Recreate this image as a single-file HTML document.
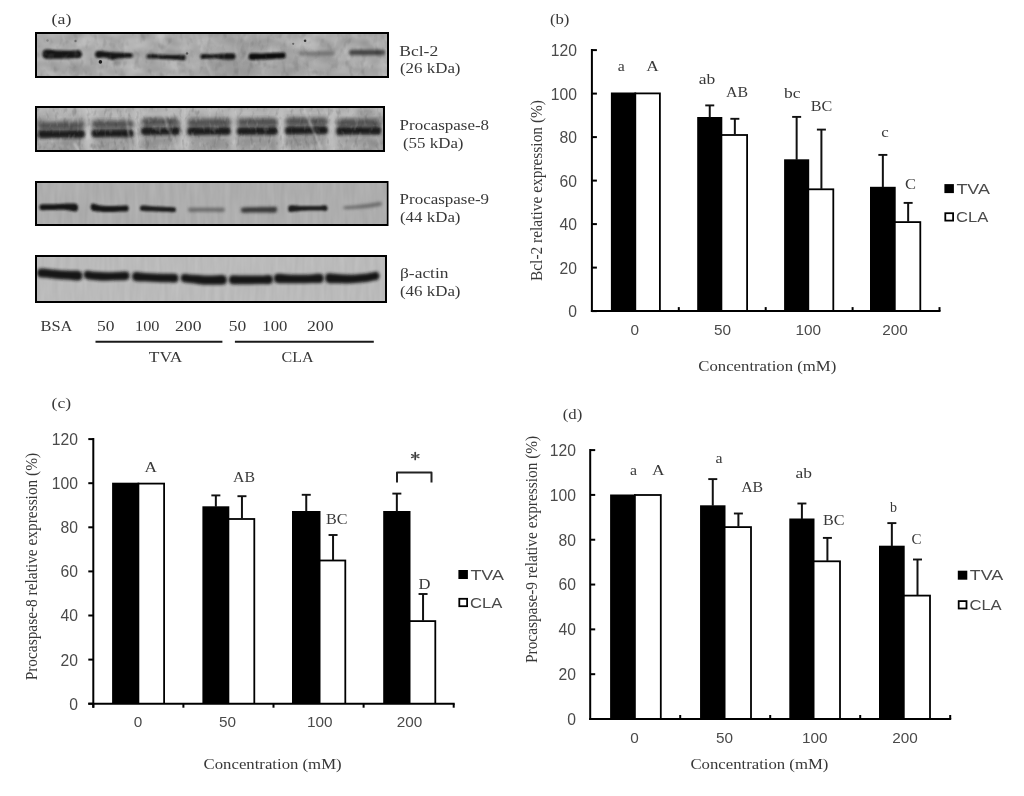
<!DOCTYPE html>
<html><head><meta charset="utf-8"><title>Figure</title>
<style>html,body{margin:0;padding:0;background:#fff;width:1024px;height:796px;overflow:hidden}svg{display:block;will-change:transform}</style>
</head><body>
<svg width="1024" height="796" viewBox="0 0 1024 796">
<rect width="1024" height="796" fill="#fff"/>
<defs><filter id="b6" x="-50%" y="-50%" width="200%" height="200%"><feGaussianBlur stdDeviation="0.6"/></filter><filter id="b8" x="-50%" y="-50%" width="200%" height="200%"><feGaussianBlur stdDeviation="0.8"/></filter><filter id="b10" x="-50%" y="-50%" width="200%" height="200%"><feGaussianBlur stdDeviation="1.0"/></filter><filter id="b13" x="-50%" y="-50%" width="200%" height="200%"><feGaussianBlur stdDeviation="1.3"/></filter><filter id="b14" x="-50%" y="-50%" width="200%" height="200%"><feGaussianBlur stdDeviation="1.4"/></filter><filter id="b15" x="-50%" y="-50%" width="200%" height="200%"><feGaussianBlur stdDeviation="1.5"/></filter><filter id="b18" x="-50%" y="-50%" width="200%" height="200%"><feGaussianBlur stdDeviation="1.8"/></filter><filter id="b19" x="-50%" y="-50%" width="200%" height="200%"><feGaussianBlur stdDeviation="1.9"/></filter><filter id="b20" x="-50%" y="-50%" width="200%" height="200%"><feGaussianBlur stdDeviation="2.0"/></filter><filter id="b25" x="-50%" y="-50%" width="200%" height="200%"><feGaussianBlur stdDeviation="2.5"/></filter><filter id="b30" x="-50%" y="-50%" width="200%" height="200%"><feGaussianBlur stdDeviation="3.0"/></filter><filter id="b60" x="-50%" y="-50%" width="200%" height="200%"><feGaussianBlur stdDeviation="6.0"/></filter><clipPath id="c1"><rect x="37" y="34" width="350" height="42"/></clipPath><clipPath id="c2"><rect x="37" y="108" width="346" height="42"/></clipPath><clipPath id="c3"><rect x="37" y="183" width="349.5" height="41"/></clipPath><clipPath id="c4"><rect x="37" y="257" width="348" height="44"/></clipPath><filter id="nz1" x="0" y="0" width="100%" height="100%" color-interpolation-filters="sRGB"><feTurbulence type="fractalNoise" baseFrequency="0.05 0.08" numOctaves="2" seed="3"/><feColorMatrix type="matrix" values="1 0 0 0 0  1 0 0 0 0  1 0 0 0 0  0 0 0 0 1"/><feComponentTransfer><feFuncR type="linear" slope="0.22" intercept="0.5606"/><feFuncG type="linear" slope="0.22" intercept="0.5606"/><feFuncB type="linear" slope="0.22" intercept="0.5606"/></feComponentTransfer></filter><filter id="nz2" x="0" y="0" width="100%" height="100%" color-interpolation-filters="sRGB"><feTurbulence type="fractalNoise" baseFrequency="0.05 0.08" numOctaves="2" seed="5"/><feColorMatrix type="matrix" values="1 0 0 0 0  1 0 0 0 0  1 0 0 0 0  0 0 0 0 1"/><feComponentTransfer><feFuncR type="linear" slope="0.3" intercept="0.5088"/><feFuncG type="linear" slope="0.3" intercept="0.5088"/><feFuncB type="linear" slope="0.3" intercept="0.5088"/></feComponentTransfer></filter><filter id="nz3" x="0" y="0" width="100%" height="100%" color-interpolation-filters="sRGB"><feTurbulence type="fractalNoise" baseFrequency="0.2 0.03" numOctaves="2" seed="7"/><feColorMatrix type="matrix" values="1 0 0 0 0  1 0 0 0 0  1 0 0 0 0  0 0 0 0 1"/><feComponentTransfer><feFuncR type="linear" slope="0.07" intercept="0.6474"/><feFuncG type="linear" slope="0.07" intercept="0.6474"/><feFuncB type="linear" slope="0.07" intercept="0.6474"/></feComponentTransfer></filter><filter id="nz4" x="0" y="0" width="100%" height="100%" color-interpolation-filters="sRGB"><feTurbulence type="fractalNoise" baseFrequency="0.2 0.03" numOctaves="2" seed="9"/><feColorMatrix type="matrix" values="1 0 0 0 0  1 0 0 0 0  1 0 0 0 0  0 0 0 0 1"/><feComponentTransfer><feFuncR type="linear" slope="0.06" intercept="0.7033"/><feFuncG type="linear" slope="0.06" intercept="0.7033"/><feFuncB type="linear" slope="0.06" intercept="0.7033"/></feComponentTransfer></filter><filter id="motw" x="0" y="0" width="100%" height="100%" color-interpolation-filters="sRGB"><feTurbulence type="fractalNoise" baseFrequency="0.22 0.12" numOctaves="2" seed="13"/><feColorMatrix type="matrix" values="0 0 0 0 1  0 0 0 0 1  0 0 0 0 1  0.5 0 0 0 -0.27"/></filter><filter id="motk" x="0" y="0" width="100%" height="100%" color-interpolation-filters="sRGB"><feTurbulence type="fractalNoise" baseFrequency="0.22 0.12" numOctaves="2" seed="29"/><feColorMatrix type="matrix" values="0 0 0 0 0  0 0 0 0 0  0 0 0 0 0  0.5 0 0 0 -0.27"/></filter><filter id="motw1" x="0" y="0" width="100%" height="100%" color-interpolation-filters="sRGB"><feTurbulence type="fractalNoise" baseFrequency="0.15 0.1" numOctaves="2" seed="41"/><feColorMatrix type="matrix" values="0 0 0 0 1  0 0 0 0 1  0 0 0 0 1  0.35 0 0 0 -0.19"/></filter><filter id="motk1" x="0" y="0" width="100%" height="100%" color-interpolation-filters="sRGB"><feTurbulence type="fractalNoise" baseFrequency="0.15 0.1" numOctaves="2" seed="43"/><feColorMatrix type="matrix" values="0 0 0 0 0  0 0 0 0 0  0 0 0 0 0  0.35 0 0 0 -0.19"/></filter></defs>
<rect x="36" y="33" width="352" height="44" fill="#acacac" stroke="#000" stroke-width="2"/>
<rect x="37.5" y="34.5" width="349" height="41" fill="none" stroke="#d2d2d2" stroke-width="1" opacity="0.35"/>
<g clip-path="url(#c1)">
<rect x="35" y="32" width="354" height="46" filter="url(#nz1)"/>
<ellipse cx="232" cy="68" rx="28" ry="12" fill="#8c8c8c" opacity="0.6" filter="url(#b60)"/>
<ellipse cx="250" cy="45" rx="22" ry="10" fill="#969696" opacity="0.45" filter="url(#b60)"/>
<path d="M196,34 L212,76" stroke="#c2c2c2" stroke-width="2" opacity="0.6" filter="url(#b10)"/>
<ellipse cx="232" cy="39" rx="18" ry="7" fill="#959595" opacity="0.5" filter="url(#b60)"/>
<ellipse cx="285" cy="66" rx="25" ry="10" fill="#9a9a9a" opacity="0.5" filter="url(#b60)"/>
<ellipse cx="330" cy="68" rx="20" ry="10" fill="#a0a0a0" opacity="0.4" filter="url(#b60)"/>
<path d="M156,34 L166,34 L161,44 Z" fill="#c4c4c4" opacity="0.8" filter="url(#b15)"/>
<path d="M240,34 L250,34 L245,42 Z" fill="#bcbcbc" opacity="0.6" filter="url(#b15)"/>
<path d="M45.00,49.80 C47.07,49.13 51.50,50.03 55.00,50.20 C58.50,50.37 62.67,50.77 66.00,50.80 C69.33,50.83 72.67,50.40 75.00,50.40 C77.33,50.40 78.85,50.15 80.00,50.80 C81.15,51.45 81.92,53.13 81.92,54.30 C81.92,55.47 81.15,57.15 80.00,57.80 C78.85,58.45 77.33,58.10 75.00,58.20 C72.67,58.30 69.33,58.30 66.00,58.40 C62.67,58.50 58.50,58.77 55.00,58.80 C51.50,58.83 47.07,59.37 45.00,58.60 C42.93,57.83 42.58,55.67 42.58,54.20 C42.58,52.73 42.93,50.47 45.00,49.80 Z" fill="#121212" opacity="1.0" filter="url(#b10)"/>
<path d="M97.00,51.20 C98.64,50.70 102.50,51.32 105.00,51.50 C107.50,51.68 109.83,52.12 112.00,52.30 C114.17,52.48 115.67,52.48 118.00,52.60 C120.33,52.72 123.75,52.90 126.00,53.00 C128.25,53.10 130.38,52.80 131.50,53.20 C132.62,53.60 132.71,54.67 132.71,55.40 C132.71,56.13 132.62,57.20 131.50,57.60 C130.38,58.00 128.25,57.65 126.00,57.80 C123.75,57.95 120.33,58.17 118.00,58.50 C115.67,58.83 114.17,59.97 112.00,59.80 C109.83,59.63 107.50,57.83 105.00,57.50 C102.50,57.17 98.64,58.30 97.00,57.80 C95.36,57.30 95.19,55.60 95.19,54.50 C95.19,53.40 95.36,51.70 97.00,51.20 Z" fill="#161616" opacity="1.0" filter="url(#b10)"/>
<circle cx="100.4" cy="61.9" r="1.8" fill="#1e1e1e" filter="url(#b6)"/>
<ellipse cx="117" cy="63" rx="4" ry="3" fill="#666" opacity="0.5" filter="url(#b15)"/>
<circle cx="47.5" cy="40.5" r="1.2" fill="#777" opacity="0.7" filter="url(#b6)"/>
<circle cx="75.5" cy="41" r="1.2" fill="#666" opacity="0.8" filter="url(#b6)"/>
<circle cx="187" cy="53.5" r="1.2" fill="#444" opacity="0.8" filter="url(#b6)"/>
<path d="M148.00,54.20 C150.20,53.90 156.00,54.47 160.00,54.60 C164.00,54.73 168.00,54.97 172.00,55.00 C176.00,55.03 181.75,54.38 184.00,54.80 C186.25,55.22 185.49,56.60 185.49,57.50 C185.49,58.40 186.25,59.85 184.00,60.20 C181.75,60.55 176.00,59.80 172.00,59.60 C168.00,59.40 164.00,59.17 160.00,59.00 C156.00,58.83 150.20,59.03 148.00,58.60 C145.80,58.17 146.79,57.13 146.79,56.40 C146.79,55.67 145.80,54.50 148.00,54.20 Z" fill="#181818" opacity="1.0" filter="url(#b10)"/>
<path d="M202.00,54.20 C203.88,53.84 208.67,54.50 212.00,54.40 C215.33,54.30 219.33,53.80 222.00,53.60 C224.67,53.40 226.00,53.20 228.00,53.20 C230.00,53.20 232.74,53.07 234.00,53.60 C235.26,54.13 235.54,55.47 235.54,56.40 C235.54,57.33 235.26,58.67 234.00,59.20 C232.74,59.73 230.00,59.60 228.00,59.60 C226.00,59.60 224.67,59.37 222.00,59.20 C219.33,59.03 215.33,58.65 212.00,58.60 C208.67,58.55 203.88,59.24 202.00,58.90 C200.12,58.56 200.71,57.33 200.71,56.55 C200.71,55.77 200.12,54.56 202.00,54.20 Z" fill="#181818" opacity="1.0" filter="url(#b10)"/>
<path d="M250.50,53.60 C252.70,53.05 258.08,53.53 262.00,53.40 C265.92,53.27 270.33,52.93 274.00,52.80 C277.67,52.67 282.07,52.16 284.00,52.60 C285.93,53.04 285.57,54.50 285.57,55.45 C285.57,56.40 285.93,57.71 284.00,58.30 C282.07,58.89 277.67,58.78 274.00,59.00 C270.33,59.22 265.92,59.47 262.00,59.60 C258.08,59.73 252.70,60.28 250.50,59.80 C248.30,59.32 248.79,57.73 248.79,56.70 C248.79,55.67 248.30,54.15 250.50,53.60 Z" fill="#111" opacity="1.0" filter="url(#b10)"/>
<path d="M301.00,51.15 C303.04,50.77 308.17,51.18 312.00,51.15 C315.83,51.12 320.42,50.97 324.00,50.95 C327.58,50.93 331.71,50.66 333.50,51.05 C335.29,51.44 334.74,52.55 334.74,53.30 C334.74,54.05 335.29,55.14 333.50,55.55 C331.71,55.96 327.58,55.68 324.00,55.75 C320.42,55.82 315.83,55.95 312.00,55.95 C308.17,55.95 303.04,56.17 301.00,55.75 C298.96,55.33 299.74,54.22 299.74,53.45 C299.74,52.68 298.96,51.53 301.00,51.15 Z" fill="#505050" opacity="0.55" filter="url(#b15)"/>
<circle cx="305.1" cy="40.8" r="1.3" fill="#333" filter="url(#b6)"/>
<circle cx="293.2" cy="43.8" r="1.1" fill="#555" opacity="0.8" filter="url(#b6)"/>
<path d="M350.50,50.05 C352.65,49.59 358.08,49.88 362.00,49.85 C365.92,49.82 370.33,49.82 374.00,49.85 C377.67,49.88 382.11,49.61 384.00,50.05 C385.89,50.49 385.35,51.68 385.35,52.50 C385.35,53.32 385.89,54.51 384.00,54.95 C382.11,55.39 377.67,55.12 374.00,55.15 C370.33,55.18 365.92,55.15 362.00,55.15 C358.08,55.15 352.65,55.57 350.50,55.15 C348.35,54.73 349.10,53.45 349.10,52.60 C349.10,51.75 348.35,50.51 350.50,50.05 Z" fill="#333" opacity="0.85" filter="url(#b14)"/>
<rect x="35" y="32" width="354" height="46" filter="url(#motw1)"/>
<rect x="35" y="32" width="354" height="46" filter="url(#motk1)"/>
</g>
<rect x="36" y="107" width="348" height="44" fill="#ababab" stroke="#000" stroke-width="2"/>
<rect x="37.5" y="108.5" width="345" height="41" fill="none" stroke="#d2d2d2" stroke-width="1" opacity="0.35"/>
<g clip-path="url(#c2)">
<rect x="35" y="106" width="350" height="46" filter="url(#nz2)"/>
<rect x="35" y="104" width="350" height="14" fill="#bdbdbd" opacity="0.55" filter="url(#b25)"/>
<rect x="84.2" y="106" width="8" height="46" fill="#c6c6c6" opacity="0.7" filter="url(#b25)"/>
<rect x="133.6" y="106" width="8" height="46" fill="#c6c6c6" opacity="0.7" filter="url(#b25)"/>
<rect x="179.6" y="106" width="8" height="46" fill="#c6c6c6" opacity="0.7" filter="url(#b25)"/>
<rect x="229.8" y="106" width="8" height="46" fill="#c6c6c6" opacity="0.7" filter="url(#b25)"/>
<rect x="277.4" y="106" width="8" height="46" fill="#c6c6c6" opacity="0.7" filter="url(#b25)"/>
<rect x="328.2" y="106" width="8" height="46" fill="#c6c6c6" opacity="0.7" filter="url(#b25)"/>
<rect x="40.0" y="121.7" width="42.3" height="15.299999999999997" fill="#7c7c7c" opacity="0.6" filter="url(#b20)"/>
<rect x="40.5" y="139.0" width="41.3" height="12" fill="#858585" opacity="0.45" filter="url(#b30)"/>
<path d="M39.50,122.70 C42.18,122.19 49.12,122.66 53.93,122.63 C58.74,122.61 63.56,122.59 68.37,122.57 C73.18,122.54 80.12,122.01 82.80,122.50 C85.48,122.99 84.45,124.50 84.45,125.50 C84.45,126.50 85.48,127.99 82.80,128.50 C80.12,129.01 73.18,128.54 68.37,128.57 C63.56,128.59 58.74,128.61 53.93,128.63 C49.12,128.66 42.18,129.19 39.50,128.70 C36.82,128.21 37.85,126.70 37.85,125.70 C37.85,124.70 36.82,123.21 39.50,122.70 Z" fill="#3c3c3c" opacity="0.85" filter="url(#b19)"/>
<path d="M39.50,130.60 C42.24,129.97 49.12,130.53 53.93,130.50 C58.74,130.47 63.56,130.43 68.37,130.40 C73.18,130.37 80.06,129.70 82.80,130.30 C85.54,130.90 84.83,132.77 84.83,134.00 C84.83,135.23 85.54,137.07 82.80,137.70 C80.06,138.33 73.18,137.77 68.37,137.80 C63.56,137.83 58.74,137.87 53.93,137.90 C49.12,137.93 42.24,138.60 39.50,138.00 C36.76,137.40 37.47,135.53 37.47,134.30 C37.47,133.07 36.76,131.23 39.50,130.60 Z" fill="#1a1a1a" opacity="1.0" filter="url(#b18)"/>
<rect x="94.1" y="120.5" width="37.099999999999994" height="15.699999999999989" fill="#7c7c7c" opacity="0.6" filter="url(#b20)"/>
<rect x="94.6" y="138.2" width="36.099999999999994" height="12" fill="#858585" opacity="0.4" filter="url(#b30)"/>
<path d="M93.60,121.50 C95.99,120.99 102.07,121.46 106.30,121.43 C110.53,121.41 114.77,121.39 119.00,121.37 C123.23,121.34 129.31,120.81 131.70,121.30 C134.09,121.79 133.35,123.30 133.35,124.30 C133.35,125.30 134.09,126.79 131.70,127.30 C129.31,127.81 123.23,127.34 119.00,127.37 C114.77,127.39 110.53,127.41 106.30,127.43 C102.07,127.46 95.99,127.99 93.60,127.50 C91.21,127.01 91.95,125.50 91.95,124.50 C91.95,123.50 91.21,122.01 93.60,121.50 Z" fill="#3c3c3c" opacity="0.85" filter="url(#b19)"/>
<path d="M93.60,129.80 C96.06,129.17 102.07,129.73 106.30,129.70 C110.53,129.67 114.77,129.63 119.00,129.60 C123.23,129.57 129.24,128.90 131.70,129.50 C134.16,130.10 133.73,131.97 133.73,133.20 C133.73,134.43 134.16,136.27 131.70,136.90 C129.24,137.53 123.23,136.97 119.00,137.00 C114.77,137.03 110.53,137.07 106.30,137.10 C102.07,137.13 96.06,137.80 93.60,137.20 C91.14,136.60 91.56,134.73 91.56,133.50 C91.56,132.27 91.14,130.43 93.60,129.80 Z" fill="#1a1a1a" opacity="1.0" filter="url(#b18)"/>
<rect x="143.5" y="118.1" width="33.900000000000006" height="15.900000000000006" fill="#7c7c7c" opacity="0.6" filter="url(#b20)"/>
<rect x="144" y="136.0" width="32.900000000000006" height="12" fill="#858585" opacity="0.7" filter="url(#b30)"/>
<path d="M143.00,119.10 C145.21,118.59 150.76,119.06 154.63,119.03 C158.51,119.01 162.39,118.99 166.27,118.97 C170.14,118.94 175.69,118.41 177.90,118.90 C180.11,119.39 179.55,120.90 179.55,121.90 C179.55,122.90 180.11,124.39 177.90,124.90 C175.69,125.41 170.14,124.94 166.27,124.97 C162.39,124.99 158.51,125.01 154.63,125.03 C150.76,125.06 145.21,125.59 143.00,125.10 C140.79,124.61 141.35,123.10 141.35,122.10 C141.35,121.10 140.79,119.61 143.00,119.10 Z" fill="#3c3c3c" opacity="0.85" filter="url(#b19)"/>
<path d="M143.00,127.60 C145.28,126.97 150.76,127.53 154.63,127.50 C158.51,127.47 162.39,127.43 166.27,127.40 C170.14,127.37 175.62,126.70 177.90,127.30 C180.18,127.90 179.94,129.77 179.94,131.00 C179.94,132.23 180.18,134.07 177.90,134.70 C175.62,135.33 170.14,134.77 166.27,134.80 C162.39,134.83 158.51,134.87 154.63,134.90 C150.76,134.93 145.28,135.60 143.00,135.00 C140.72,134.40 140.97,132.53 140.97,131.30 C140.97,130.07 140.72,128.23 143.00,127.60 Z" fill="#1a1a1a" opacity="1.0" filter="url(#b18)"/>
<rect x="189.9" y="118.8" width="38.29999999999998" height="15.200000000000003" fill="#7c7c7c" opacity="0.6" filter="url(#b20)"/>
<rect x="190.4" y="136.0" width="37.29999999999998" height="12" fill="#858585" opacity="0.5" filter="url(#b30)"/>
<path d="M189.40,119.80 C191.86,119.29 198.13,119.76 202.50,119.73 C206.87,119.71 211.23,119.69 215.60,119.67 C219.97,119.64 226.24,119.11 228.70,119.60 C231.16,120.09 230.35,121.60 230.35,122.60 C230.35,123.60 231.16,125.09 228.70,125.60 C226.24,126.11 219.97,125.64 215.60,125.67 C211.23,125.69 206.87,125.71 202.50,125.73 C198.13,125.76 191.86,126.29 189.40,125.80 C186.94,125.31 187.75,123.80 187.75,122.80 C187.75,121.80 186.94,120.31 189.40,119.80 Z" fill="#3c3c3c" opacity="0.85" filter="url(#b19)"/>
<path d="M189.40,127.60 C191.92,126.97 198.13,127.53 202.50,127.50 C206.87,127.47 211.23,127.43 215.60,127.40 C219.97,127.37 226.18,126.70 228.70,127.30 C231.22,127.90 230.73,129.77 230.73,131.00 C230.73,132.23 231.22,134.07 228.70,134.70 C226.18,135.33 219.97,134.77 215.60,134.80 C211.23,134.83 206.87,134.87 202.50,134.90 C198.13,134.93 191.92,135.60 189.40,135.00 C186.88,134.40 187.37,132.53 187.37,131.30 C187.37,130.07 186.88,128.23 189.40,127.60 Z" fill="#1a1a1a" opacity="1.0" filter="url(#b18)"/>
<rect x="239.4" y="118.3" width="35.900000000000006" height="15.600000000000009" fill="#7c7c7c" opacity="0.6" filter="url(#b20)"/>
<rect x="239.9" y="135.9" width="34.900000000000006" height="12" fill="#858585" opacity="0.7" filter="url(#b30)"/>
<path d="M238.90,119.30 C241.23,118.79 247.10,119.26 251.20,119.23 C255.30,119.21 259.40,119.19 263.50,119.17 C267.60,119.14 273.48,118.61 275.80,119.10 C278.12,119.59 277.45,121.10 277.45,122.10 C277.45,123.10 278.12,124.59 275.80,125.10 C273.48,125.61 267.60,125.14 263.50,125.17 C259.40,125.19 255.30,125.21 251.20,125.23 C247.10,125.26 241.23,125.79 238.90,125.30 C236.57,124.81 237.25,123.30 237.25,122.30 C237.25,121.30 236.57,119.81 238.90,119.30 Z" fill="#3c3c3c" opacity="0.85" filter="url(#b19)"/>
<path d="M238.90,127.50 C241.29,126.87 247.10,127.43 251.20,127.40 C255.30,127.37 259.40,127.33 263.50,127.30 C267.60,127.27 273.41,126.60 275.80,127.20 C278.19,127.80 277.84,129.67 277.84,130.90 C277.84,132.13 278.19,133.97 275.80,134.60 C273.41,135.23 267.60,134.67 263.50,134.70 C259.40,134.73 255.30,134.77 251.20,134.80 C247.10,134.83 241.29,135.50 238.90,134.90 C236.51,134.30 236.87,132.43 236.87,131.20 C236.87,129.97 236.51,128.13 238.90,127.50 Z" fill="#1a1a1a" opacity="1.0" filter="url(#b18)"/>
<rect x="287.5" y="117.6" width="37.89999999999998" height="15.700000000000017" fill="#7c7c7c" opacity="0.6" filter="url(#b20)"/>
<rect x="288" y="135.3" width="36.89999999999998" height="12" fill="#858585" opacity="0.65" filter="url(#b30)"/>
<path d="M287.00,118.60 C289.44,118.09 295.64,118.56 299.97,118.53 C304.29,118.51 308.61,118.49 312.93,118.47 C317.26,118.44 323.46,117.91 325.90,118.40 C328.34,118.89 327.55,120.40 327.55,121.40 C327.55,122.40 328.34,123.89 325.90,124.40 C323.46,124.91 317.26,124.44 312.93,124.47 C308.61,124.49 304.29,124.51 299.97,124.53 C295.64,124.56 289.44,125.09 287.00,124.60 C284.56,124.11 285.35,122.60 285.35,121.60 C285.35,120.60 284.56,119.11 287.00,118.60 Z" fill="#3c3c3c" opacity="0.85" filter="url(#b19)"/>
<path d="M287.00,126.90 C289.50,126.27 295.64,126.83 299.97,126.80 C304.29,126.77 308.61,126.73 312.93,126.70 C317.26,126.67 323.40,126.00 325.90,126.60 C328.40,127.20 327.94,129.07 327.94,130.30 C327.94,131.53 328.40,133.37 325.90,134.00 C323.40,134.63 317.26,134.07 312.93,134.10 C308.61,134.13 304.29,134.17 299.97,134.20 C295.64,134.23 289.50,134.90 287.00,134.30 C284.50,133.70 284.96,131.83 284.96,130.60 C284.96,129.37 284.50,127.53 287.00,126.90 Z" fill="#1a1a1a" opacity="1.0" filter="url(#b18)"/>
<rect x="338.9" y="118.8" width="39.80000000000001" height="14.899999999999991" fill="#7c7c7c" opacity="0.6" filter="url(#b20)"/>
<rect x="339.4" y="135.7" width="38.80000000000001" height="12" fill="#858585" opacity="0.45" filter="url(#b30)"/>
<path d="M338.40,119.80 C340.94,119.29 347.47,119.76 352.00,119.73 C356.53,119.71 361.07,119.69 365.60,119.67 C370.13,119.64 376.66,119.11 379.20,119.60 C381.74,120.09 380.85,121.60 380.85,122.60 C380.85,123.60 381.74,125.09 379.20,125.60 C376.66,126.11 370.13,125.64 365.60,125.67 C361.07,125.69 356.53,125.71 352.00,125.73 C347.47,125.76 340.94,126.29 338.40,125.80 C335.86,125.31 336.75,123.80 336.75,122.80 C336.75,121.80 335.86,120.31 338.40,119.80 Z" fill="#3c3c3c" opacity="0.85" filter="url(#b19)"/>
<path d="M338.40,127.30 C341.01,126.67 347.47,127.23 352.00,127.20 C356.53,127.17 361.07,127.13 365.60,127.10 C370.13,127.07 376.59,126.40 379.20,127.00 C381.81,127.60 381.24,129.47 381.24,130.70 C381.24,131.93 381.81,133.77 379.20,134.40 C376.59,135.03 370.13,134.47 365.60,134.50 C361.07,134.53 356.53,134.57 352.00,134.60 C347.47,134.63 341.01,135.30 338.40,134.70 C335.79,134.10 336.36,132.23 336.36,131.00 C336.36,129.77 335.79,127.93 338.40,127.30 Z" fill="#1a1a1a" opacity="1.0" filter="url(#b18)"/>
<path d="M125,107 L131,151" stroke="#d4d4d4" stroke-width="1.6" opacity="0.5" fill="none" filter="url(#b8)"/>
<path d="M163,115 L178,151" stroke="#d8d8d8" stroke-width="1.3" opacity="0.6" fill="none" filter="url(#b8)"/>
<path d="M303,107 L322,151" stroke="#dadada" stroke-width="1.3" opacity="0.65" fill="none" filter="url(#b8)"/>
<path d="M74,143 L79,151" stroke="#dcdcdc" stroke-width="1.8" opacity="0.7" fill="none" filter="url(#b8)"/>
<ellipse cx="365" cy="112" rx="9" ry="5" fill="#8a8a8a" opacity="0.55" filter="url(#b20)"/>
<rect x="35" y="106" width="350" height="46" filter="url(#motw)"/>
<rect x="35" y="106" width="350" height="46" filter="url(#motk)"/>
</g>
<rect x="36" y="182" width="351.5" height="43" fill="#aeaeae" stroke="#000" stroke-width="2"/>
<rect x="37.5" y="183.5" width="348.5" height="40" fill="none" stroke="#d2d2d2" stroke-width="1" opacity="0.35"/>
<g clip-path="url(#c3)">
<rect x="35" y="181" width="354" height="45" filter="url(#nz3)"/>
<path d="M41.00,204.55 C42.75,204.06 46.83,204.45 50.00,204.35 C53.17,204.25 57.00,204.08 60.00,203.95 C63.00,203.82 65.33,203.58 68.00,203.55 C70.67,203.52 74.31,203.07 76.00,203.75 C77.69,204.43 78.12,206.32 78.12,207.60 C78.12,208.88 77.69,211.01 76.00,211.45 C74.31,211.89 70.67,210.53 68.00,210.25 C65.33,209.97 63.00,209.78 60.00,209.75 C57.00,209.72 53.17,210.00 50.00,210.05 C46.83,210.10 42.75,210.51 41.00,210.05 C39.25,209.59 39.49,208.22 39.49,207.30 C39.49,206.38 39.25,205.04 41.00,204.55 Z" fill="#141414" opacity="1" filter="url(#b13)"/>
<path d="M92.50,203.55 C93.91,203.23 96.42,204.75 99.00,205.15 C101.58,205.55 104.83,205.85 108.00,205.95 C111.17,206.05 114.83,205.82 118.00,205.75 C121.17,205.68 125.24,205.11 127.00,205.55 C128.76,205.99 128.57,207.45 128.57,208.40 C128.57,209.35 128.76,210.71 127.00,211.25 C125.24,211.79 121.17,211.52 118.00,211.65 C114.83,211.78 111.17,212.08 108.00,212.05 C104.83,212.02 101.58,211.68 99.00,211.45 C96.42,211.22 93.91,211.37 92.50,210.65 C91.09,209.92 90.55,208.28 90.55,207.10 C90.55,205.92 91.09,203.88 92.50,203.55 Z" fill="#181818" opacity="1" filter="url(#b13)"/>
<path d="M141.50,205.65 C143.49,205.32 148.42,206.05 152.00,206.25 C155.58,206.45 159.25,206.63 163.00,206.85 C166.75,207.07 172.38,207.06 174.50,207.55 C176.62,208.04 175.74,209.05 175.74,209.80 C175.74,210.55 176.62,211.72 174.50,212.05 C172.38,212.37 166.75,211.87 163.00,211.75 C159.25,211.63 155.58,211.50 152.00,211.35 C148.42,211.20 143.49,211.37 141.50,210.85 C139.51,210.33 140.07,209.12 140.07,208.25 C140.07,207.38 139.51,205.98 141.50,205.65 Z" fill="#1c1c1c" opacity="1" filter="url(#b13)"/>
<path d="M189.50,207.85 C191.43,207.52 196.25,207.85 200.00,207.85 C203.75,207.85 208.08,207.83 212.00,207.85 C215.92,207.87 221.41,207.62 223.50,207.95 C225.59,208.28 224.55,209.22 224.55,209.85 C224.55,210.48 225.59,211.42 223.50,211.75 C221.41,212.08 215.92,211.83 212.00,211.85 C208.08,211.87 203.75,211.87 200.00,211.85 C196.25,211.83 191.43,212.09 189.50,211.75 C187.57,211.41 188.43,210.45 188.43,209.80 C188.43,209.15 187.57,208.18 189.50,207.85 Z" fill="#5a5a5a" opacity="0.8" filter="url(#b14)"/>
<path d="M242.50,207.70 C244.80,207.22 251.08,207.32 255.00,207.20 C258.92,207.08 262.58,207.07 266.00,207.00 C269.42,206.93 273.66,206.37 275.50,206.80 C277.34,207.23 277.04,208.67 277.04,209.60 C277.04,210.53 277.34,211.90 275.50,212.40 C273.66,212.90 269.42,212.57 266.00,212.60 C262.58,212.63 258.92,212.62 255.00,212.60 C251.08,212.58 244.80,212.92 242.50,212.50 C240.20,212.08 241.18,210.90 241.18,210.10 C241.18,209.30 240.20,208.18 242.50,207.70 Z" fill="#333" opacity="0.95" filter="url(#b14)"/>
<path d="M290.00,205.40 C291.96,204.94 296.50,205.78 300.00,205.90 C303.50,206.02 307.67,206.10 311.00,206.10 C314.33,206.10 317.50,206.02 320.00,205.90 C322.50,205.78 324.75,205.02 326.00,205.40 C327.25,205.77 327.51,207.23 327.51,208.15 C327.51,209.07 327.25,210.49 326.00,210.90 C324.75,211.31 322.50,210.65 320.00,210.60 C317.50,210.55 314.33,210.52 311.00,210.60 C307.67,210.68 303.50,210.88 300.00,211.10 C296.50,211.32 291.96,212.31 290.00,211.90 C288.04,211.49 288.21,209.73 288.21,208.65 C288.21,207.57 288.04,205.86 290.00,205.40 Z" fill="#1e1e1e" opacity="1" filter="url(#b13)"/>
<path d="M344.50,206.30 C346.38,205.93 351.25,205.87 355.00,205.50 C358.75,205.13 362.75,204.67 367.00,204.10 C371.25,203.53 378.08,202.13 380.50,202.10 C382.92,202.07 381.49,203.30 381.49,203.90 C381.49,204.50 382.92,205.03 380.50,205.70 C378.08,206.37 371.25,207.40 367.00,207.90 C362.75,208.40 358.75,208.50 355.00,208.70 C351.25,208.90 346.38,209.27 344.50,209.10 C342.62,208.93 343.73,208.17 343.73,207.70 C343.73,207.23 342.62,206.67 344.50,206.30 Z" fill="#555" opacity="0.75" filter="url(#b14)"/>
</g>
<rect x="36" y="256" width="350" height="46" fill="#bababa" stroke="#000" stroke-width="2"/>
<rect x="37.5" y="257.5" width="347" height="43" fill="none" stroke="#d2d2d2" stroke-width="1" opacity="0.35"/>
<g clip-path="url(#c4)">
<rect x="35" y="255" width="352" height="48" filter="url(#nz4)"/>
<path d="M39.50,268.75 C41.64,268.13 46.58,269.10 50.00,269.35 C53.42,269.60 56.67,270.03 60.00,270.25 C63.33,270.47 66.67,270.48 70.00,270.65 C73.33,270.82 77.92,270.40 80.00,271.25 C82.08,272.10 82.47,274.25 82.47,275.75 C82.47,277.25 82.08,279.58 80.00,280.25 C77.92,280.92 73.33,279.92 70.00,279.75 C66.67,279.58 63.33,279.52 60.00,279.25 C56.67,278.98 53.42,278.47 50.00,278.15 C46.58,277.83 41.64,278.20 39.50,277.35 C37.36,276.50 37.13,274.48 37.13,273.05 C37.13,271.62 37.36,269.37 39.50,268.75 Z" fill="#121212" opacity="1" filter="url(#b14)"/>
<path d="M86.00,270.75 C88.03,270.27 92.67,271.60 96.00,271.85 C99.33,272.10 102.50,272.22 106.00,272.25 C109.50,272.28 113.45,272.13 117.00,272.05 C120.55,271.97 125.22,271.13 127.30,271.75 C129.38,272.37 129.50,274.42 129.50,275.75 C129.50,277.08 129.38,278.98 127.30,279.75 C125.22,280.52 120.55,280.18 117.00,280.35 C113.45,280.52 109.50,280.78 106.00,280.75 C102.50,280.72 99.33,280.48 96.00,280.15 C92.67,279.82 88.03,279.65 86.00,278.75 C83.97,277.85 83.80,276.08 83.80,274.75 C83.80,273.42 83.97,271.23 86.00,270.75 Z" fill="#121212" opacity="1" filter="url(#b14)"/>
<path d="M134.50,272.15 C136.64,271.57 141.42,272.73 145.00,272.95 C148.58,273.17 152.50,273.32 156.00,273.45 C159.50,273.58 162.63,273.65 166.00,273.75 C169.37,273.85 174.12,273.31 176.20,274.05 C178.28,274.79 178.48,276.82 178.48,278.20 C178.48,279.58 178.28,281.68 176.20,282.35 C174.12,283.03 169.37,282.30 166.00,282.25 C162.63,282.20 159.50,282.17 156.00,282.05 C152.50,281.93 148.58,281.77 145.00,281.55 C141.42,281.33 136.64,281.60 134.50,280.75 C132.36,279.90 132.13,277.88 132.13,276.45 C132.13,275.02 132.36,272.73 134.50,272.15 Z" fill="#121212" opacity="1" filter="url(#b14)"/>
<path d="M183.00,274.05 C185.20,273.52 190.50,274.62 194.00,274.85 C197.50,275.08 200.67,275.35 204.00,275.45 C207.33,275.55 210.60,275.45 214.00,275.45 C217.40,275.45 222.26,274.71 224.40,275.45 C226.54,276.19 226.85,278.42 226.85,279.90 C226.85,281.38 226.54,283.56 224.40,284.35 C222.26,285.14 217.40,284.60 214.00,284.65 C210.60,284.70 207.33,284.83 204.00,284.65 C200.67,284.47 197.50,283.98 194.00,283.55 C190.50,283.12 185.20,282.97 183.00,282.05 C180.80,281.13 180.80,279.38 180.80,278.05 C180.80,276.72 180.80,274.58 183.00,274.05 Z" fill="#121212" opacity="1" filter="url(#b14)"/>
<path d="M231.30,275.45 C233.48,274.75 238.55,275.53 242.00,275.55 C245.45,275.57 248.67,275.57 252.00,275.55 C255.33,275.53 258.90,275.50 262.00,275.45 C265.10,275.40 268.77,274.57 270.60,275.25 C272.43,275.93 272.97,278.12 272.97,279.55 C272.97,280.98 272.43,283.10 270.60,283.85 C268.77,284.60 265.10,284.00 262.00,284.05 C258.90,284.10 255.33,284.13 252.00,284.15 C248.67,284.17 245.45,284.17 242.00,284.15 C238.55,284.13 233.48,284.78 231.30,284.05 C229.12,283.32 228.94,281.18 228.94,279.75 C228.94,278.32 229.12,276.15 231.30,275.45 Z" fill="#121212" opacity="1" filter="url(#b14)"/>
<path d="M276.30,274.05 C278.64,273.42 284.05,274.43 288.00,274.55 C291.95,274.67 296.17,274.77 300.00,274.75 C303.83,274.73 307.43,274.57 311.00,274.45 C314.57,274.33 319.27,273.40 321.40,274.05 C323.53,274.70 323.76,276.92 323.76,278.35 C323.76,279.78 323.53,281.87 321.40,282.65 C319.27,283.43 314.57,282.93 311.00,283.05 C307.43,283.17 303.83,283.33 300.00,283.35 C296.17,283.37 291.95,283.27 288.00,283.15 C284.05,283.03 278.64,283.45 276.30,282.65 C273.96,281.85 273.94,279.78 273.94,278.35 C273.94,276.92 273.96,274.68 276.30,274.05 Z" fill="#121212" opacity="1" filter="url(#b14)"/>
<path d="M327.70,273.45 C330.17,272.82 335.95,274.03 340.00,274.25 C344.05,274.47 348.00,274.82 352.00,274.75 C356.00,274.68 360.67,274.23 364.00,273.85 C367.33,273.47 369.78,272.77 372.00,272.45 C374.22,272.13 376.05,271.38 377.30,271.95 C378.55,272.52 379.47,274.58 379.47,275.90 C379.47,277.22 378.55,279.01 377.30,279.85 C376.05,280.69 374.22,280.53 372.00,280.95 C369.78,281.37 367.33,281.95 364.00,282.35 C360.67,282.75 356.00,283.22 352.00,283.35 C348.00,283.48 344.05,283.27 340.00,283.15 C335.95,283.03 330.17,283.50 327.70,282.65 C325.23,281.80 325.17,279.58 325.17,278.05 C325.17,276.52 325.23,274.08 327.70,273.45 Z" fill="#121212" opacity="1" filter="url(#b14)"/>
</g>
<text x="399.2" y="55.6" font-family="'Liberation Serif', serif" font-size="15" fill="#383838" textLength="39" lengthAdjust="spacingAndGlyphs">Bcl-2</text>
<text x="400" y="73.3" font-family="'Liberation Serif', serif" font-size="15" fill="#383838" textLength="60.5" lengthAdjust="spacingAndGlyphs">(26 kDa)</text>
<text x="399.6" y="129.6" font-family="'Liberation Serif', serif" font-size="15" fill="#383838" textLength="89.5" lengthAdjust="spacingAndGlyphs">Procaspase-8</text>
<text x="403" y="147.6" font-family="'Liberation Serif', serif" font-size="15" fill="#383838" textLength="60.5" lengthAdjust="spacingAndGlyphs">(55 kDa)</text>
<text x="399.6" y="204" font-family="'Liberation Serif', serif" font-size="15" fill="#383838" textLength="89.5" lengthAdjust="spacingAndGlyphs">Procaspase-9</text>
<text x="400" y="221.8" font-family="'Liberation Serif', serif" font-size="15" fill="#383838" textLength="60.5" lengthAdjust="spacingAndGlyphs">(44 kDa)</text>
<text x="400" y="278" font-family="'Liberation Serif', serif" font-size="15" fill="#383838" textLength="48.5" lengthAdjust="spacingAndGlyphs">β-actin</text>
<text x="400" y="295.8" font-family="'Liberation Serif', serif" font-size="15" fill="#383838" textLength="60.5" lengthAdjust="spacingAndGlyphs">(46 kDa)</text>
<text x="51.6" y="24" font-family="'Liberation Serif', serif" font-size="15" fill="#383838" textLength="19.8" lengthAdjust="spacingAndGlyphs">(a)</text>
<text x="40.5" y="330.8" font-family="'Liberation Serif', serif" font-size="15" fill="#383838" textLength="32" lengthAdjust="spacingAndGlyphs">BSA</text>
<text x="97" y="330.8" font-family="'Liberation Serif', serif" font-size="15" fill="#383838" textLength="17.5" lengthAdjust="spacingAndGlyphs">50</text>
<text x="135" y="330.8" font-family="'Liberation Serif', serif" font-size="15" fill="#383838" textLength="24.5" lengthAdjust="spacingAndGlyphs">100</text>
<text x="175" y="330.8" font-family="'Liberation Serif', serif" font-size="15" fill="#383838" textLength="26.5" lengthAdjust="spacingAndGlyphs">200</text>
<text x="228.7" y="330.8" font-family="'Liberation Serif', serif" font-size="15" fill="#383838" textLength="17.5" lengthAdjust="spacingAndGlyphs">50</text>
<text x="262.3" y="330.8" font-family="'Liberation Serif', serif" font-size="15" fill="#383838" textLength="25" lengthAdjust="spacingAndGlyphs">100</text>
<text x="307" y="330.8" font-family="'Liberation Serif', serif" font-size="15" fill="#383838" textLength="26.5" lengthAdjust="spacingAndGlyphs">200</text>
<line x1="95.5" y1="341.8" x2="222.4" y2="341.8" stroke="#1a1a1a" stroke-width="2"/>
<line x1="234.9" y1="341.8" x2="373.8" y2="341.8" stroke="#1a1a1a" stroke-width="2"/>
<text x="148.8" y="362.2" font-family="'Liberation Serif', serif" font-size="15" fill="#383838" textLength="33.5" lengthAdjust="spacingAndGlyphs">TVA</text>
<text x="281.5" y="362.2" font-family="'Liberation Serif', serif" font-size="15" fill="#383838" textLength="32" lengthAdjust="spacingAndGlyphs">CLA</text>
<rect x="610.9" y="92.5" width="25.300000000000068" height="218.60000000000002" fill="#000"/>
<rect x="634.4000000000001" y="92.5" width="26.39999999999991" height="218.60000000000002" fill="#000"/>
<rect x="636.2" y="94.3" width="22.79999999999991" height="216.8" fill="#fff"/>
<rect x="697.2" y="117.0" width="25.09999999999991" height="194.10000000000002" fill="#000"/>
<rect x="720.5" y="134.1" width="27.500000000000046" height="177.00000000000003" fill="#000"/>
<rect x="722.3" y="135.9" width="23.900000000000045" height="175.20000000000002" fill="#fff"/>
<line x1="709.75" y1="117.5" x2="709.75" y2="105.4" stroke="#111" stroke-width="2"/>
<line x1="705.25" y1="105.4" x2="714.25" y2="105.4" stroke="#111" stroke-width="1.9"/>
<line x1="734.85" y1="134.6" x2="734.85" y2="118.8" stroke="#111" stroke-width="2"/>
<line x1="730.35" y1="118.8" x2="739.35" y2="118.8" stroke="#111" stroke-width="1.9"/>
<rect x="784.1" y="159.3" width="25.100000000000023" height="151.8" fill="#000"/>
<rect x="807.4000000000001" y="188.4" width="26.8" height="122.70000000000002" fill="#000"/>
<rect x="809.2" y="190.20000000000002" width="23.2" height="120.90000000000002" fill="#fff"/>
<line x1="796.65" y1="159.8" x2="796.65" y2="116.9" stroke="#111" stroke-width="2"/>
<line x1="792.15" y1="116.9" x2="801.15" y2="116.9" stroke="#111" stroke-width="1.9"/>
<line x1="821.40" y1="188.9" x2="821.40" y2="129.6" stroke="#111" stroke-width="2"/>
<line x1="816.90" y1="129.6" x2="825.90" y2="129.6" stroke="#111" stroke-width="1.9"/>
<rect x="870" y="186.8" width="25.700000000000045" height="124.30000000000001" fill="#000"/>
<rect x="893.9000000000001" y="221.2" width="27.3" height="89.90000000000003" fill="#000"/>
<rect x="895.7" y="223.0" width="23.7" height="88.10000000000004" fill="#fff"/>
<line x1="882.85" y1="187.3" x2="882.85" y2="154.9" stroke="#111" stroke-width="2"/>
<line x1="878.35" y1="154.9" x2="887.35" y2="154.9" stroke="#111" stroke-width="1.9"/>
<line x1="908.15" y1="221.7" x2="908.15" y2="202.9" stroke="#111" stroke-width="2"/>
<line x1="903.65" y1="202.9" x2="912.65" y2="202.9" stroke="#111" stroke-width="1.9"/>
<line x1="591.9" y1="49.1" x2="591.9" y2="312.1" stroke="#000" stroke-width="2"/>
<line x1="590.9" y1="311.1" x2="940.5" y2="311.1" stroke="#000" stroke-width="2"/>
<line x1="591.9" y1="311.1" x2="596.9" y2="311.1" stroke="#000" stroke-width="2"/>
<text x="577" y="317.0" font-family="'Liberation Sans', sans-serif" font-size="15.7" fill="#4a4a4a" text-anchor="end">0</text>
<line x1="591.9" y1="267.6" x2="596.9" y2="267.6" stroke="#000" stroke-width="2"/>
<text x="577" y="273.5" font-family="'Liberation Sans', sans-serif" font-size="15.7" fill="#4a4a4a" text-anchor="end">20</text>
<line x1="591.9" y1="224.10000000000002" x2="596.9" y2="224.10000000000002" stroke="#000" stroke-width="2"/>
<text x="577" y="230.00000000000003" font-family="'Liberation Sans', sans-serif" font-size="15.7" fill="#4a4a4a" text-anchor="end">40</text>
<line x1="591.9" y1="180.60000000000002" x2="596.9" y2="180.60000000000002" stroke="#000" stroke-width="2"/>
<text x="577" y="186.50000000000003" font-family="'Liberation Sans', sans-serif" font-size="15.7" fill="#4a4a4a" text-anchor="end">60</text>
<line x1="591.9" y1="137.10000000000002" x2="596.9" y2="137.10000000000002" stroke="#000" stroke-width="2"/>
<text x="577" y="143.00000000000003" font-family="'Liberation Sans', sans-serif" font-size="15.7" fill="#4a4a4a" text-anchor="end">80</text>
<line x1="591.9" y1="93.60000000000005" x2="596.9" y2="93.60000000000005" stroke="#000" stroke-width="2"/>
<text x="577" y="99.50000000000006" font-family="'Liberation Sans', sans-serif" font-size="15.7" fill="#4a4a4a" text-anchor="end">100</text>
<line x1="591.9" y1="50.10000000000002" x2="596.9" y2="50.10000000000002" stroke="#000" stroke-width="2"/>
<text x="577" y="56.00000000000002" font-family="'Liberation Sans', sans-serif" font-size="15.7" fill="#4a4a4a" text-anchor="end">120</text>
<line x1="678.8" y1="307.1" x2="678.8" y2="311.1" stroke="#000" stroke-width="2"/>
<line x1="765.7" y1="307.1" x2="765.7" y2="311.1" stroke="#000" stroke-width="2"/>
<line x1="852.6" y1="307.1" x2="852.6" y2="311.1" stroke="#000" stroke-width="2"/>
<line x1="939.5" y1="307.1" x2="939.5" y2="311.1" stroke="#000" stroke-width="2"/>
<text x="634.7" y="335.2" font-family="'Liberation Sans', sans-serif" font-size="15.3" fill="#4a4a4a" text-anchor="middle">0</text>
<text x="722.6" y="335.2" font-family="'Liberation Sans', sans-serif" font-size="15.3" fill="#4a4a4a" text-anchor="middle">50</text>
<text x="808.3" y="335.2" font-family="'Liberation Sans', sans-serif" font-size="15.3" fill="#4a4a4a" text-anchor="middle">100</text>
<text x="894.9" y="335.2" font-family="'Liberation Sans', sans-serif" font-size="15.3" fill="#4a4a4a" text-anchor="middle">200</text>
<rect x="944.4" y="184.1" width="9.5" height="9" fill="#000"/>
<rect x="945.3" y="213.20000000000002" width="7.8" height="7.4" fill="#fff" stroke="#000" stroke-width="1.8"/>
<text x="956.4" y="193.7" font-family="'Liberation Sans', sans-serif" font-size="15.5" fill="#4a4a4a" textLength="33.5" lengthAdjust="spacingAndGlyphs">TVA</text>
<text x="956.0" y="221.9" font-family="'Liberation Sans', sans-serif" font-size="15.5" fill="#4a4a4a" textLength="32.3" lengthAdjust="spacingAndGlyphs">CLA</text>
<text x="541.6" y="190.5" font-family="'Liberation Serif', serif" font-size="16" fill="#383838" text-anchor="middle" textLength="181" lengthAdjust="spacingAndGlyphs" transform="rotate(-90 541.6 190.5)">Bcl-2 relative expression (%)</text>
<text x="698.3" y="371.1" font-family="'Liberation Serif', serif" font-size="15" fill="#383838" textLength="138" lengthAdjust="spacingAndGlyphs">Concentration (mM)</text>
<text x="549.9" y="24" font-family="'Liberation Serif', serif" font-size="15" fill="#383838" textLength="19.5" lengthAdjust="spacingAndGlyphs">(b)</text>
<text x="617.7" y="70.9" font-family="'Liberation Serif', serif" font-size="15.5" fill="#383838" textLength="7" lengthAdjust="spacingAndGlyphs">a</text>
<text x="646.2" y="70.9" font-family="'Liberation Serif', serif" font-size="15.5" fill="#383838" textLength="12.5" lengthAdjust="spacingAndGlyphs">A</text>
<text x="698.8" y="84" font-family="'Liberation Serif', serif" font-size="15.5" fill="#383838" textLength="16.5" lengthAdjust="spacingAndGlyphs">ab</text>
<text x="726" y="96.6" font-family="'Liberation Serif', serif" font-size="15.5" fill="#383838" textLength="22" lengthAdjust="spacingAndGlyphs">AB</text>
<text x="784" y="97.6" font-family="'Liberation Serif', serif" font-size="15.5" fill="#383838" textLength="16.5" lengthAdjust="spacingAndGlyphs">bc</text>
<text x="810.7" y="110.8" font-family="'Liberation Serif', serif" font-size="15.5" fill="#383838" textLength="21.5" lengthAdjust="spacingAndGlyphs">BC</text>
<text x="881.3" y="137.1" font-family="'Liberation Serif', serif" font-size="15.5" fill="#383838" textLength="7.5" lengthAdjust="spacingAndGlyphs">c</text>
<text x="904.9" y="189" font-family="'Liberation Serif', serif" font-size="15.5" fill="#383838" textLength="11" lengthAdjust="spacingAndGlyphs">C</text>
<rect x="112.1" y="482.7" width="27.200000000000017" height="221.00000000000006" fill="#000"/>
<rect x="137.5" y="482.7" width="27.49999999999999" height="221.00000000000006" fill="#000"/>
<rect x="139.3" y="484.5" width="23.899999999999988" height="219.20000000000005" fill="#fff"/>
<rect x="202.4" y="506.3" width="26.900000000000006" height="197.40000000000003" fill="#000"/>
<rect x="227.5" y="518.1" width="27.699999999999978" height="185.60000000000002" fill="#000"/>
<rect x="229.3" y="519.9" width="24.099999999999977" height="183.8" fill="#fff"/>
<line x1="215.85" y1="506.8" x2="215.85" y2="495.4" stroke="#111" stroke-width="2"/>
<line x1="211.35" y1="495.4" x2="220.35" y2="495.4" stroke="#111" stroke-width="1.9"/>
<line x1="241.95" y1="518.6" x2="241.95" y2="496.2" stroke="#111" stroke-width="2"/>
<line x1="237.45" y1="496.2" x2="246.45" y2="496.2" stroke="#111" stroke-width="1.9"/>
<rect x="292" y="511" width="28.5" height="192.70000000000005" fill="#000"/>
<rect x="318.7" y="559.6" width="27.49999999999999" height="144.10000000000002" fill="#000"/>
<rect x="320.5" y="561.4" width="23.899999999999988" height="142.3" fill="#fff"/>
<line x1="306.25" y1="511.5" x2="306.25" y2="494.8" stroke="#111" stroke-width="2"/>
<line x1="301.75" y1="494.8" x2="310.75" y2="494.8" stroke="#111" stroke-width="1.9"/>
<line x1="333.05" y1="560.1" x2="333.05" y2="535" stroke="#111" stroke-width="2"/>
<line x1="328.55" y1="535" x2="337.55" y2="535" stroke="#111" stroke-width="1.9"/>
<rect x="383.2" y="511" width="27.30000000000001" height="192.70000000000005" fill="#000"/>
<rect x="408.7" y="620.2" width="27.49999999999999" height="83.5" fill="#000"/>
<rect x="410.5" y="622.0" width="23.899999999999988" height="81.7" fill="#fff"/>
<line x1="396.85" y1="511.5" x2="396.85" y2="493.6" stroke="#111" stroke-width="2"/>
<line x1="392.35" y1="493.6" x2="401.35" y2="493.6" stroke="#111" stroke-width="1.9"/>
<line x1="423.05" y1="620.7" x2="423.05" y2="594" stroke="#111" stroke-width="2"/>
<line x1="418.55" y1="594" x2="427.55" y2="594" stroke="#111" stroke-width="1.9"/>
<line x1="93.3" y1="438.1" x2="93.3" y2="707.7" stroke="#000" stroke-width="2"/>
<line x1="88.3" y1="703.7" x2="454.7" y2="703.7" stroke="#000" stroke-width="2"/>
<line x1="88.3" y1="703.7" x2="93.3" y2="703.7" stroke="#000" stroke-width="2"/>
<text x="78" y="709.6" font-family="'Liberation Sans', sans-serif" font-size="15.7" fill="#4a4a4a" text-anchor="end">0</text>
<line x1="88.3" y1="659.6" x2="93.3" y2="659.6" stroke="#000" stroke-width="2"/>
<text x="78" y="665.5" font-family="'Liberation Sans', sans-serif" font-size="15.7" fill="#4a4a4a" text-anchor="end">20</text>
<line x1="88.3" y1="615.5" x2="93.3" y2="615.5" stroke="#000" stroke-width="2"/>
<text x="78" y="621.4" font-family="'Liberation Sans', sans-serif" font-size="15.7" fill="#4a4a4a" text-anchor="end">40</text>
<line x1="88.3" y1="571.4000000000001" x2="93.3" y2="571.4000000000001" stroke="#000" stroke-width="2"/>
<text x="78" y="577.3000000000001" font-family="'Liberation Sans', sans-serif" font-size="15.7" fill="#4a4a4a" text-anchor="end">60</text>
<line x1="88.3" y1="527.3000000000001" x2="93.3" y2="527.3000000000001" stroke="#000" stroke-width="2"/>
<text x="78" y="533.2" font-family="'Liberation Sans', sans-serif" font-size="15.7" fill="#4a4a4a" text-anchor="end">80</text>
<line x1="88.3" y1="483.20000000000005" x2="93.3" y2="483.20000000000005" stroke="#000" stroke-width="2"/>
<text x="78" y="489.1" font-family="'Liberation Sans', sans-serif" font-size="15.7" fill="#4a4a4a" text-anchor="end">100</text>
<line x1="88.3" y1="439.1" x2="93.3" y2="439.1" stroke="#000" stroke-width="2"/>
<text x="78" y="445.0" font-family="'Liberation Sans', sans-serif" font-size="15.7" fill="#4a4a4a" text-anchor="end">120</text>
<line x1="183.39999999999998" y1="703.7" x2="183.39999999999998" y2="707.7" stroke="#000" stroke-width="2"/>
<line x1="273.5" y1="703.7" x2="273.5" y2="707.7" stroke="#000" stroke-width="2"/>
<line x1="363.59999999999997" y1="703.7" x2="363.59999999999997" y2="707.7" stroke="#000" stroke-width="2"/>
<line x1="453.7" y1="703.7" x2="453.7" y2="707.7" stroke="#000" stroke-width="2"/>
<line x1="93.3" y1="703.7" x2="93.3" y2="707.7" stroke="#000" stroke-width="2"/>
<text x="138" y="727.4" font-family="'Liberation Sans', sans-serif" font-size="15.3" fill="#4a4a4a" text-anchor="middle">0</text>
<text x="227.5" y="727.4" font-family="'Liberation Sans', sans-serif" font-size="15.3" fill="#4a4a4a" text-anchor="middle">50</text>
<text x="319.8" y="727.4" font-family="'Liberation Sans', sans-serif" font-size="15.3" fill="#4a4a4a" text-anchor="middle">100</text>
<text x="409.4" y="727.4" font-family="'Liberation Sans', sans-serif" font-size="15.3" fill="#4a4a4a" text-anchor="middle">200</text>
<rect x="458.4" y="570" width="9.5" height="9" fill="#000"/>
<rect x="459.29999999999995" y="598.8" width="7.8" height="7.4" fill="#fff" stroke="#000" stroke-width="1.8"/>
<text x="470.4" y="579.6" font-family="'Liberation Sans', sans-serif" font-size="15.5" fill="#4a4a4a" textLength="33.5" lengthAdjust="spacingAndGlyphs">TVA</text>
<text x="470.0" y="607.5" font-family="'Liberation Sans', sans-serif" font-size="15.5" fill="#4a4a4a" textLength="32.3" lengthAdjust="spacingAndGlyphs">CLA</text>
<text x="36.7" y="566.6" font-family="'Liberation Serif', serif" font-size="16" fill="#383838" text-anchor="middle" textLength="227.5" lengthAdjust="spacingAndGlyphs" transform="rotate(-90 36.7 566.6)">Procaspase-8 relative expression (%)</text>
<text x="203.6" y="768.8" font-family="'Liberation Serif', serif" font-size="15" fill="#383838" textLength="138" lengthAdjust="spacingAndGlyphs">Concentration (mM)</text>
<text x="51.6" y="407.7" font-family="'Liberation Serif', serif" font-size="15" fill="#383838" textLength="19.5" lengthAdjust="spacingAndGlyphs">(c)</text>
<text x="144.6" y="472.1" font-family="'Liberation Serif', serif" font-size="15.5" fill="#383838" textLength="12.5" lengthAdjust="spacingAndGlyphs">A</text>
<text x="233" y="481.7" font-family="'Liberation Serif', serif" font-size="15.5" fill="#383838" textLength="22" lengthAdjust="spacingAndGlyphs">AB</text>
<text x="325.9" y="524.3" font-family="'Liberation Serif', serif" font-size="15.5" fill="#383838" textLength="21.5" lengthAdjust="spacingAndGlyphs">BC</text>
<text x="418.6" y="588.6" font-family="'Liberation Serif', serif" font-size="15.5" fill="#383838" textLength="12" lengthAdjust="spacingAndGlyphs">D</text>
<path d="M397,482.5 L397,472.5 L431.5,472.5 L431.5,482.5" stroke="#222" stroke-width="2" fill="none" stroke-linejoin="round"/>
<g stroke-linecap="round" fill="none"><path d="M411.8,454.8 L418.8,457.4 M411.8,457.4 L418.8,454.8" stroke="#b0b0b0" stroke-width="1"/><path d="M411.6,454.6 L413.5,455.3 M411.6,457.6 L413.5,456.9 M416.9,455.3 L418.9,454.6 M416.9,456.9 L418.9,457.6" stroke="#4a4a4a" stroke-width="1.4"/><path d="M415.2,452.6 L415.2,459.5" stroke="#3c3c3c" stroke-width="1.7"/></g>
<rect x="610.1" y="494.5" width="25.699999999999932" height="224.5" fill="#000"/>
<rect x="634.0" y="494.1" width="27.70000000000009" height="224.89999999999998" fill="#000"/>
<rect x="635.8" y="495.90000000000003" width="24.10000000000009" height="223.09999999999997" fill="#fff"/>
<rect x="700.05" y="505.3" width="25.450000000000045" height="213.7" fill="#000"/>
<rect x="723.7" y="526.2" width="28.199999999999978" height="192.79999999999995" fill="#000"/>
<rect x="725.5" y="528.0" width="24.599999999999977" height="190.99999999999994" fill="#fff"/>
<line x1="712.77" y1="505.8" x2="712.77" y2="479.1" stroke="#111" stroke-width="2"/>
<line x1="708.27" y1="479.1" x2="717.27" y2="479.1" stroke="#111" stroke-width="1.9"/>
<line x1="738.40" y1="526.7" x2="738.40" y2="513.5" stroke="#111" stroke-width="2"/>
<line x1="733.90" y1="513.5" x2="742.90" y2="513.5" stroke="#111" stroke-width="1.9"/>
<rect x="789.3" y="518.5" width="25.200000000000045" height="200.5" fill="#000"/>
<rect x="812.7" y="560.4" width="28.199999999999978" height="158.60000000000002" fill="#000"/>
<rect x="814.5" y="562.1999999999999" width="24.599999999999977" height="156.8" fill="#fff"/>
<line x1="801.90" y1="519.0" x2="801.90" y2="503.5" stroke="#111" stroke-width="2"/>
<line x1="797.40" y1="503.5" x2="806.40" y2="503.5" stroke="#111" stroke-width="1.9"/>
<line x1="827.40" y1="560.9" x2="827.40" y2="537.9" stroke="#111" stroke-width="2"/>
<line x1="822.90" y1="537.9" x2="831.90" y2="537.9" stroke="#111" stroke-width="1.9"/>
<rect x="879" y="545.7" width="25.700000000000045" height="173.29999999999995" fill="#000"/>
<rect x="902.9000000000001" y="594.7" width="27.999999999999932" height="124.29999999999995" fill="#000"/>
<rect x="904.7" y="596.5" width="24.39999999999993" height="122.49999999999996" fill="#fff"/>
<line x1="891.85" y1="546.2" x2="891.85" y2="523.1" stroke="#111" stroke-width="2"/>
<line x1="887.35" y1="523.1" x2="896.35" y2="523.1" stroke="#111" stroke-width="1.9"/>
<line x1="917.50" y1="595.2" x2="917.50" y2="559.5" stroke="#111" stroke-width="2"/>
<line x1="913.00" y1="559.5" x2="922.00" y2="559.5" stroke="#111" stroke-width="1.9"/>
<line x1="590.2" y1="449.1" x2="590.2" y2="720.0" stroke="#000" stroke-width="2"/>
<line x1="589.2" y1="719.0" x2="951.2" y2="719.0" stroke="#000" stroke-width="2"/>
<line x1="590.2" y1="719.0" x2="595.2" y2="719.0" stroke="#000" stroke-width="2"/>
<text x="576" y="724.9" font-family="'Liberation Sans', sans-serif" font-size="15.7" fill="#4a4a4a" text-anchor="end">0</text>
<line x1="590.2" y1="674.1833333333334" x2="595.2" y2="674.1833333333334" stroke="#000" stroke-width="2"/>
<text x="576" y="680.0833333333334" font-family="'Liberation Sans', sans-serif" font-size="15.7" fill="#4a4a4a" text-anchor="end">20</text>
<line x1="590.2" y1="629.3666666666667" x2="595.2" y2="629.3666666666667" stroke="#000" stroke-width="2"/>
<text x="576" y="635.2666666666667" font-family="'Liberation Sans', sans-serif" font-size="15.7" fill="#4a4a4a" text-anchor="end">40</text>
<line x1="590.2" y1="584.55" x2="595.2" y2="584.55" stroke="#000" stroke-width="2"/>
<text x="576" y="590.4499999999999" font-family="'Liberation Sans', sans-serif" font-size="15.7" fill="#4a4a4a" text-anchor="end">60</text>
<line x1="590.2" y1="539.7333333333333" x2="595.2" y2="539.7333333333333" stroke="#000" stroke-width="2"/>
<text x="576" y="545.6333333333333" font-family="'Liberation Sans', sans-serif" font-size="15.7" fill="#4a4a4a" text-anchor="end">80</text>
<line x1="590.2" y1="494.9166666666667" x2="595.2" y2="494.9166666666667" stroke="#000" stroke-width="2"/>
<text x="576" y="500.81666666666666" font-family="'Liberation Sans', sans-serif" font-size="15.7" fill="#4a4a4a" text-anchor="end">100</text>
<line x1="590.2" y1="450.1" x2="595.2" y2="450.1" stroke="#000" stroke-width="2"/>
<text x="576" y="456.0" font-family="'Liberation Sans', sans-serif" font-size="15.7" fill="#4a4a4a" text-anchor="end">120</text>
<line x1="680.2" y1="715.0" x2="680.2" y2="719.0" stroke="#000" stroke-width="2"/>
<line x1="770.2" y1="715.0" x2="770.2" y2="719.0" stroke="#000" stroke-width="2"/>
<line x1="860.2" y1="715.0" x2="860.2" y2="719.0" stroke="#000" stroke-width="2"/>
<line x1="950.2" y1="715.0" x2="950.2" y2="719.0" stroke="#000" stroke-width="2"/>
<text x="634.4" y="742.8" font-family="'Liberation Sans', sans-serif" font-size="15.3" fill="#4a4a4a" text-anchor="middle">0</text>
<text x="724.4" y="742.8" font-family="'Liberation Sans', sans-serif" font-size="15.3" fill="#4a4a4a" text-anchor="middle">50</text>
<text x="814.7" y="742.8" font-family="'Liberation Sans', sans-serif" font-size="15.3" fill="#4a4a4a" text-anchor="middle">100</text>
<text x="905" y="742.8" font-family="'Liberation Sans', sans-serif" font-size="15.3" fill="#4a4a4a" text-anchor="middle">200</text>
<rect x="957.8" y="570.7" width="9.5" height="9" fill="#000"/>
<rect x="958.6999999999999" y="601.1" width="7.8" height="7.4" fill="#fff" stroke="#000" stroke-width="1.8"/>
<text x="969.8" y="580.3000000000001" font-family="'Liberation Sans', sans-serif" font-size="15.5" fill="#4a4a4a" textLength="33.5" lengthAdjust="spacingAndGlyphs">TVA</text>
<text x="969.4" y="609.8000000000001" font-family="'Liberation Sans', sans-serif" font-size="15.5" fill="#4a4a4a" textLength="32.3" lengthAdjust="spacingAndGlyphs">CLA</text>
<text x="536.7" y="549.4" font-family="'Liberation Serif', serif" font-size="16" fill="#383838" text-anchor="middle" textLength="227.2" lengthAdjust="spacingAndGlyphs" transform="rotate(-90 536.7 549.4)">Procaspase-9 relative expression (%)</text>
<text x="690.4" y="768.8" font-family="'Liberation Serif', serif" font-size="15" fill="#383838" textLength="138" lengthAdjust="spacingAndGlyphs">Concentration (mM)</text>
<text x="562.8" y="418.6" font-family="'Liberation Serif', serif" font-size="15" fill="#383838" textLength="19.5" lengthAdjust="spacingAndGlyphs">(d)</text>
<text x="629.9" y="475.4" font-family="'Liberation Serif', serif" font-size="15.5" fill="#383838" textLength="7" lengthAdjust="spacingAndGlyphs">a</text>
<text x="652" y="474.8" font-family="'Liberation Serif', serif" font-size="15.5" fill="#383838" textLength="12.5" lengthAdjust="spacingAndGlyphs">A</text>
<text x="715.6" y="463.2" font-family="'Liberation Serif', serif" font-size="15.5" fill="#383838" textLength="7" lengthAdjust="spacingAndGlyphs">a</text>
<text x="741.2" y="492.2" font-family="'Liberation Serif', serif" font-size="15.5" fill="#383838" textLength="22" lengthAdjust="spacingAndGlyphs">AB</text>
<text x="795.5" y="478.2" font-family="'Liberation Serif', serif" font-size="15.5" fill="#383838" textLength="16.5" lengthAdjust="spacingAndGlyphs">ab</text>
<text x="823" y="525" font-family="'Liberation Serif', serif" font-size="15.5" fill="#383838" textLength="21.5" lengthAdjust="spacingAndGlyphs">BC</text>
<text x="890" y="512.1" font-family="'Liberation Serif', serif" font-size="15.5" fill="#383838" textLength="7" lengthAdjust="spacingAndGlyphs">b</text>
<text x="911.5" y="543.8" font-family="'Liberation Serif', serif" font-size="15.5" fill="#383838" textLength="10" lengthAdjust="spacingAndGlyphs">C</text>
</svg>
</body></html>
